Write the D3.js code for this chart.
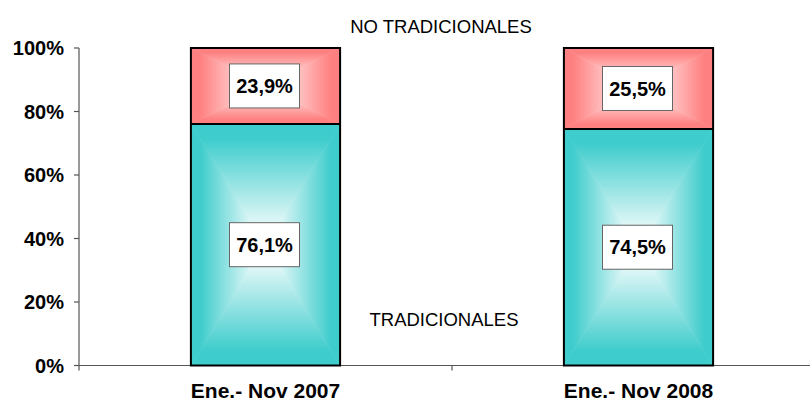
<!DOCTYPE html>
<html><head><meta charset="utf-8">
<script src="https://cdn.jsdelivr.net/npm/d3@7"></script>
<style>body{margin:0;background:#fff}svg{display:block;font-family:"Liberation Sans",Arial,sans-serif}</style>
</head><body><svg id="c" width="810" height="403"></svg>
<script>
const categories = ["Ene.- Nov 2007", "Ene.- Nov 2008"];
const tradicionales = [76.1, 74.5];
const noTradicionales = [23.9, 25.5];
const tradLabels = ["76,1%", "74,5%"];
const noTradLabels = ["23,9%", "25,5%"];
const yTicks = [0, 20, 40, 60, 80, 100];

const svg = d3.select("#c");
const defs = svg.append("defs");
const x = d3.scaleBand().domain(categories).range([79, 825]).paddingInner(0.6).paddingOuter(0.3);
const y = d3.scaleLinear().domain([0, 100]).range([365.5, 48]);

let gid = 0;
function gradRect(g, x0, y0, x1, y1, color) {
  const cx = (x0 + x1) / 2, cy = (y0 + y1) / 2;
  const tris = [
    [[x0, y0], [x1, y0], [cx, y0], [cx, cy]],
    [[x0, y1], [x1, y1], [cx, y1], [cx, cy]],
    [[x0, y0], [x0, y1], [x0, cy], [cx, cy]],
    [[x1, y0], [x1, y1], [x1, cy], [cx, cy]]
  ];
  tris.forEach(t => {
    const id = "g" + (gid++);
    const lg = defs.append("linearGradient").attr("id", id).attr("gradientUnits", "userSpaceOnUse")
      .attr("x1", t[2][0]).attr("y1", t[2][1]).attr("x2", t[3][0]).attr("y2", t[3][1]);
    lg.append("stop").attr("offset", 0).attr("stop-color", color);
    lg.append("stop").attr("offset", 0.12).attr("stop-color", color);
    lg.append("stop").attr("offset", 0.95).attr("stop-color", "#ffffff");
    g.append("path").attr("d", `M${t[0][0]},${t[0][1]}L${t[1][0]},${t[1][1]}L${t[3][0]},${t[3][1]}Z`)
      .attr("fill", `url(#${id})`).attr("stroke", `url(#${id})`).attr("stroke-width", 0.6);
  });
}

// axes
const axisG = svg.append("g");
axisG.append("line").attr("x1", 79).attr("x2", 79).attr("y1", y(100)).attr("y2", y(0)).attr("stroke", "#555").attr("stroke-width", 1.2);
axisG.append("line").attr("x1", 79).attr("x2", 825).attr("y1", y(0)).attr("y2", y(0)).attr("stroke", "#555").attr("stroke-width", 1.2);
yTicks.forEach(t => {
  axisG.append("line").attr("x1", 74).attr("x2", 79).attr("y1", y(t)).attr("y2", y(t)).attr("stroke", "#555").attr("stroke-width", 1.2);
  axisG.append("text").attr("x", 64).attr("y", y(t)).attr("dy", "0.37em").attr("text-anchor", "end")
    .attr("font-weight", "bold").attr("font-size", 20).attr("fill", "#000").text(t + "%");
});
for (let i = 0; i <= categories.length; i++) {
  const tx = x.range()[0] + i * x.step();
  axisG.append("line").attr("x1", tx).attr("x2", tx).attr("y1", y(0)).attr("y2", y(0) + 5).attr("stroke", "#555").attr("stroke-width", 1.2);
}
categories.forEach(c => {
  axisG.append("text").attr("x", x(c) + x.bandwidth() / 2).attr("y", 398).attr("text-anchor", "middle")
    .attr("font-weight", "bold").attr("font-size", 21).attr("fill", "#000").text(c);
});

// bars
categories.forEach((c, i) => {
  const g = svg.append("g");
  const x0 = x(c), x1 = x(c) + x.bandwidth();
  const yb = y(tradicionales[i]);
  gradRect(g, x0, yb, x1, y(0), "#3ecccc");
  gradRect(g, x0, y(100), x1, yb, "#ff8080");
  g.append("rect").attr("x", x0).attr("y", y(100)).attr("width", x.bandwidth()).attr("height", y(0) - y(100))
    .attr("fill", "none").attr("stroke", "#000").attr("stroke-width", 2);
  g.append("line").attr("x1", x0).attr("x2", x1).attr("y1", yb).attr("y2", yb).attr("stroke", "#000").attr("stroke-width", 2);
  const cx = x0 + x.bandwidth() / 2;
  [[(y(0) + yb) / 2, tradLabels[i]], [(y(100) + yb) / 2, noTradLabels[i]]].forEach(([cy, lab]) => {
    g.append("rect").attr("x", cx - 36).attr("y", cy - 22).attr("width", 70).attr("height", 44)
      .attr("fill", "#fff").attr("stroke", "#666").attr("stroke-width", 1);
    g.append("text").attr("x", cx - 1).attr("y", cy).attr("dy", "0.36em").attr("text-anchor", "middle")
      .attr("font-weight", "bold").attr("font-size", 20).attr("fill", "#000").text(lab);
  });
});

svg.append("text").attr("x", 441).attr("y", 33).attr("text-anchor", "middle").attr("font-size", 18.5).attr("fill", "#000").text("NO TRADICIONALES");
svg.append("text").attr("x", 444).attr("y", 326).attr("text-anchor", "middle").attr("font-size", 18.5).attr("fill", "#000").text("TRADICIONALES");
</script></body></html>
